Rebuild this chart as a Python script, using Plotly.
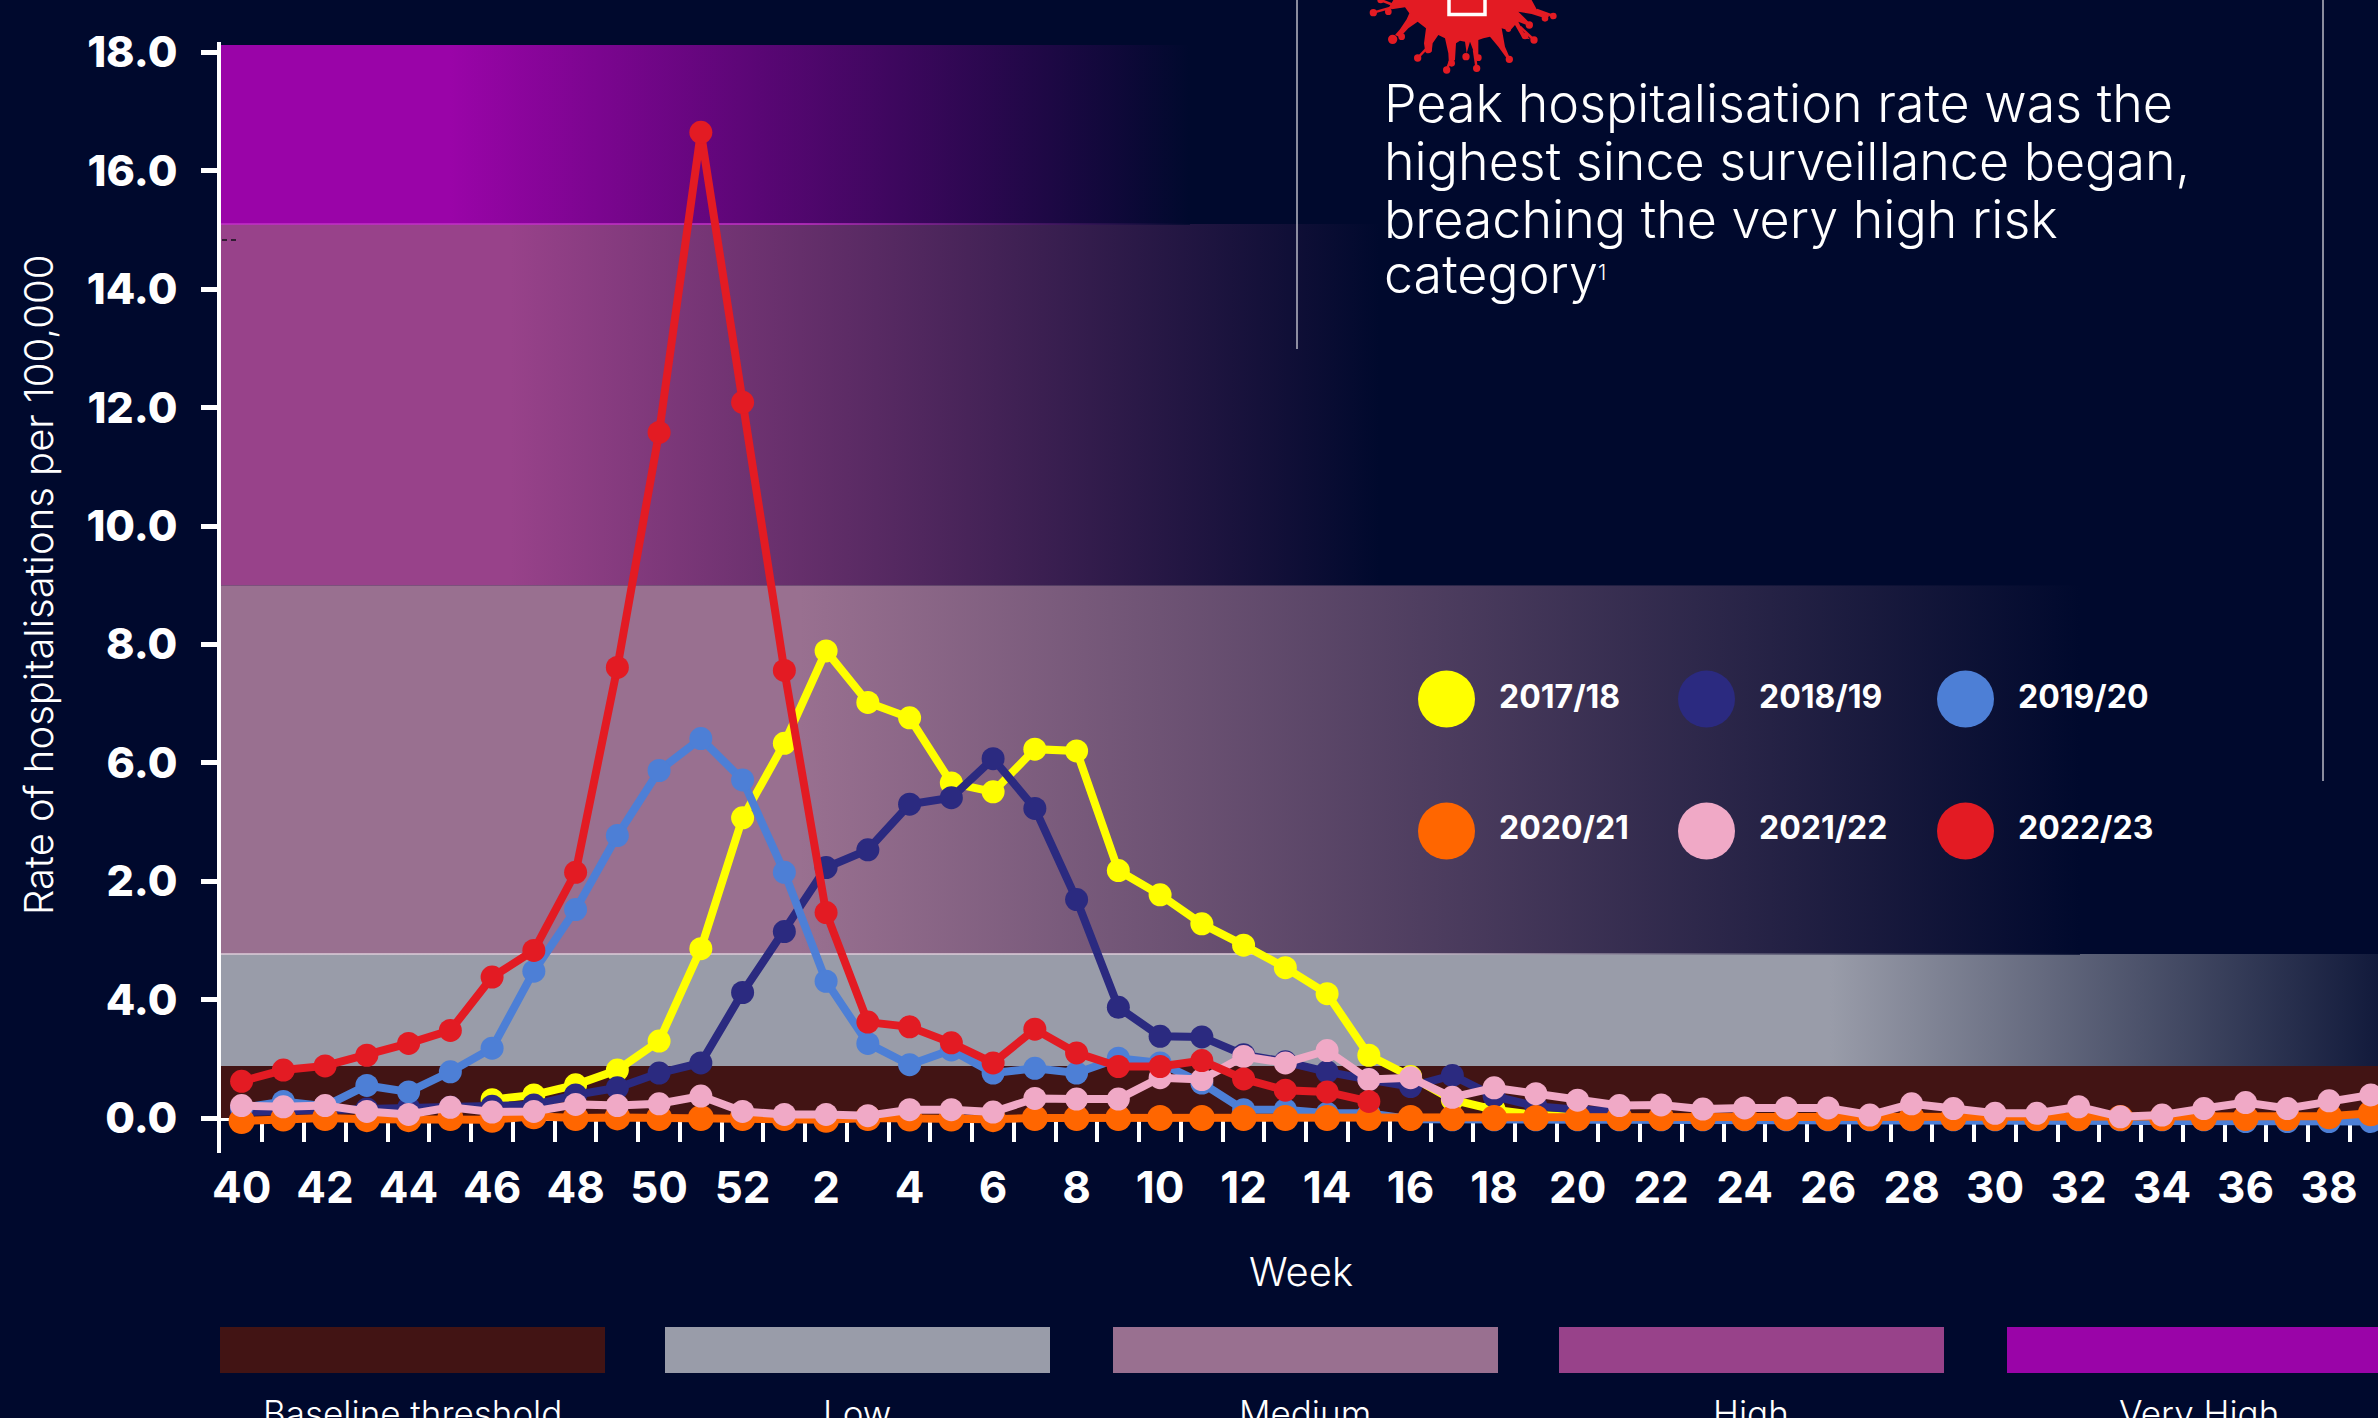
import plotly.graph_objects as go

# Surveillance weeks, October to September
weeks = list(range(40, 53)) + list(range(1, 40))

season_names = ["2017/18", "2018/19", "2019/20", "2020/21", "2021/22", "2022/23"]
season_colors = ["#ffff00", "#2b2a80", "#4d7fd6", "#ff6600", "#f0a9c6", "#e31b23"]
season_marker_sizes = [23, 23, 23, 26, 23, 23]
season_first_week = [46, 40, 40, 40, 40, 40]

rates_2017_18 = [0.31, 0.39, 0.56, 0.81, 1.30, 2.86, 5.07, 6.33, 7.89, 7.02, 6.76, 5.66, 5.51, 6.23, 6.20,
                 4.18, 3.77, 3.28, 2.92, 2.54, 2.10, 1.06, 0.70, 0.31, 0.14, 0.05, 0.03]
rates_2018_19 = [0.10, 0.12, 0.12, 0.15, 0.17, 0.18, 0.20, 0.22, 0.39, 0.51, 0.76, 0.93, 2.12, 3.15, 4.23, 4.53,
                 5.30, 5.41, 6.07, 5.23, 3.69, 1.87, 1.38, 1.37, 1.07, 0.95, 0.78, 0.65, 0.53, 0.72, 0.37, 0.20,
                 0.14, 0.12]
rates_2019_20 = [0.17, 0.28, 0.20, 0.55, 0.44, 0.78, 1.18, 2.48, 3.52, 4.77, 5.87, 6.41, 5.71, 4.15, 2.31, 1.26,
                 0.90, 1.15, 0.76, 0.84, 0.76, 1.01, 0.93, 0.59, 0.14, 0.14, 0.08, 0.08, -0.02, -0.03, -0.03, -0.03,
                 -0.03, -0.03, -0.03, -0.03, -0.03, -0.03, -0.03, -0.03, -0.03, -0.03, -0.03, -0.03, -0.03, -0.03,
                 -0.03, -0.03, -0.06, -0.06, -0.06, -0.06]
rates_2020_21 = [-0.05, -0.01, 0.00, -0.02, -0.02, 0.00, -0.03, 0.03, 0.00, 0.01, 0.00, 0.00, 0.00, 0.00, -0.03,
                 0.00, -0.01, -0.01, -0.02, 0.00, 0.00, 0.00, 0.00, 0.00, 0.00, 0.00, 0.00, 0.00, 0.00, 0.00, 0.00,
                 0.00, 0.00, 0.00, 0.00, 0.00, 0.00, 0.00, 0.00, 0.00, 0.00, 0.00, 0.00, 0.00, 0.00, 0.00, 0.00,
                 0.00, 0.00, 0.00, 0.03, 0.08]
rates_2021_22 = [0.21, 0.19, 0.21, 0.11, 0.06, 0.18, 0.10, 0.11, 0.23, 0.21, 0.24, 0.37, 0.11, 0.06, 0.06, 0.04,
                 0.14, 0.14, 0.10, 0.33, 0.32, 0.32, 0.68, 0.65, 1.04, 0.93, 1.14, 0.65, 0.68, 0.35, 0.51, 0.41,
                 0.30, 0.21, 0.22, 0.15, 0.17, 0.17, 0.17, 0.05, 0.24, 0.16, 0.08, 0.08, 0.19, 0.02, 0.05, 0.16,
                 0.26, 0.16, 0.29, 0.39]
rates_2022_23 = [0.62, 0.81, 0.88, 1.06, 1.26, 1.48, 2.38, 2.83, 4.15, 7.61, 11.58, 16.65, 12.09, 7.56, 3.47, 1.62,
                 1.54, 1.27, 0.93, 1.50, 1.10, 0.87, 0.87, 0.97, 0.66, 0.47, 0.44, 0.28]
season_rates = [rates_2017_18, rates_2018_19, rates_2019_20, rates_2020_21, rates_2021_22, rates_2022_23]

# Risk categories: lower bound, upper bound, key colour
category_names = ["Baseline threshold", "Low", "Medium", "High", "Very High"]
category_lower = [0.0, 0.88, 2.77, 9.0, 15.1]
category_upper = [0.88, 2.77, 9.0, 15.1, 18.125]
category_colors = ["#421414", "#999ca9", "#997090", "#98428a", "#9a04a8"]

y_tick_values = [0, 2, 4, 6, 8, 10, 12, 14, 16, 18]
y_tick_labels = ["0.0", "4.0", "2.0", "6.0", "8.0", "10.0", "12.0", "14.0", "16.0", "18.0"]

note_lines = ["Peak hospitalisation rate was the", "highest since surveillance began,",
              "breaching the very high risk", "category<span style='font-size:30px'><sup>1</sup></span>"]

BG = "#00092d"
W, H = 2378, 1418
ML, MT = 220, 45
PLOT_BOTTOM = 1153
ZERO_ROW = 1118
PER_UNIT = 59.2
MB = H - PLOT_BOTTOM
PW, PH = W - ML, PLOT_BOTTOM - MT
STEP = 41.75
FIRST = 241.6


def pxx(p):
    return (p - ML) / PW


def pxy(p):
    return (PLOT_BOTTOM - p) / PH


def to_week(p):
    return (p - FIRST) / STEP


fig = go.Figure()

# Category bands fading into the background from left to right
fade = [(None, None), (1830, 2450), (800, 2080), (510, 1380), (450, 1190)]
for i, name in enumerate(category_names):
    x0, x1 = to_week(221), to_week(W + 5)
    lo, hi = category_lower[i], category_upper[i]
    kw = dict(fillcolor=category_colors[i])
    if fade[i][0] is not None:
        a, b = to_week(fade[i][0]), to_week(fade[i][1])
        kw = dict(fillgradient=dict(type="horizontal", start=a, stop=b,
                                    colorscale=[[0, category_colors[i]], [1, BG]]))
    fig.add_trace(go.Scatter(x=[x0, x1, x1, x0, x0], y=[lo, lo, hi, hi, lo], mode="lines", fill="toself",
                             line=dict(width=0), showlegend=False, name=name, hoverinfo="skip", **kw))

# Pale edges on top of the low and high bands
for level, tone, end in [(2.77, "#dccbd8", 2080), (15.1, "#c22fc8", 1190)]:
    x0, x1 = to_week(221), to_week(end)
    fig.add_trace(go.Scatter(x=[x0, x1, x1, x0, x0], y=[level - 0.012, level - 0.012, level + 0.012, level + 0.012, level - 0.012],
                             mode="lines", fill="toself", line=dict(width=0), showlegend=False, hoverinfo="skip",
                             fillgradient=dict(type="horizontal", start=x0, stop=x1,
                                               colorscale=[[0, tone], [0.6, tone], [1, BG]])))

# One line per season
for name, color, msize, start, rates in zip(season_names, season_colors, season_marker_sizes, season_first_week, season_rates):
    k = weeks.index(start)
    fig.add_trace(go.Scatter(x=list(range(k, k + len(rates))), y=rates, mode="lines+markers", name=name,
                             line=dict(color=color, width=8), marker=dict(color=color, size=msize),
                             showlegend=False))

shapes = [
    # Extended vertical axis
    dict(type="line", xref="paper", yref="paper", x0=pxx(219), x1=pxx(219), y0=pxy(1153), y1=pxy(42),
         line=dict(color="white", width=4), layer="below"),
    # Column rules
    dict(type="line", xref="paper", yref="paper", x0=pxx(1297), x1=pxx(1297), y0=pxy(349), y1=pxy(-2),
         line=dict(color="#b9b9c4", width=1.5), layer="above"),
    dict(type="line", xref="paper", yref="paper", x0=pxx(2323), x1=pxx(2323), y0=pxy(781), y1=pxy(-2),
         line=dict(color="#b9b9c4", width=1.5), layer="above"),
    # Short dashed stub near the high band
    dict(type="line", xref="paper", yref="paper", x0=pxx(222), x1=pxx(240), y0=pxy(240), y1=pxy(240),
         line=dict(color="#101018", width=1.5, dash="5px,4px"), layer="above"),
]

# Category key
key_left = [220, 665, 1113, 1559, 2007]
for left, tone in zip(key_left, category_colors):
    shapes.append(dict(type="rect", xref="paper", yref="paper", x0=pxx(left), x1=pxx(left + 385),
                       y0=pxy(1373), y1=pxy(1327), fillcolor=tone, line=dict(width=0), layer="above"))

# Season key
legend_x = [1446.5, 1706.5, 1965.5]
legend_y = [699, 831]
legend_text_y = [697, 827.5]
R = 28.5
for i, tone in enumerate(season_colors):
    cx, cy = legend_x[i % 3], legend_y[i // 3]
    shapes.append(dict(type="circle", xref="paper", yref="paper", x0=pxx(cx - R), x1=pxx(cx + R),
                       y0=pxy(cy + R), y1=pxy(cy - R), fillcolor=tone, line=dict(width=0), layer="above"))

# Virus emblem cropped at the top edge
OX, OY, S = 1350, 0, 1 / 3
VIRUS = "#e31b23"
outline = [(130, -40), (130, 0), (118, 20), (125, 28), (165, 22), (178, 40), (170, 58), (150, 88), (135, 105), (150, 112),
           (175, 85), (203, 65), (228, 85), (222, 130), (225, 150), (245, 155), (248, 130), (265, 105), (285, 115),
           (295, 160), (297, 195), (315, 180), (318, 130), (330, 122), (345, 125), (350, 160), (360, 125), (375, 165),
           (385, 180), (385, 120), (400, 115), (420, 110), (445, 140), (470, 175), (480, 175), (465, 140), (455, 85),
           (480, 92), (495, 75), (515, 110), (525, 115), (540, 118), (520, 95), (505, 65), (530, 75), (535, 65),
           (505, 35), (545, 42), (585, 55), (600, 48), (560, 28), (545, 0), (530, -40)]
path = "M " + " L ".join(f"{pxx(OX + a * S):.6f},{pxy(OY + b * S):.6f}" for a, b in outline) + " Z"
shapes.append(dict(type="path", xref="paper", yref="paper", path=path, fillcolor=VIRUS, line=dict(width=0), layer="above"))
arms = [((70, 38), (125, 22)), ((92, 0), (130, 15)), ((203, 174), (235, 140)), ((290, 210), (305, 170)),
        ((380, 205), (372, 150)), ((610, 48), (560, 30)), ((552, 120), (510, 80)), ((538, 75), (510, 50))]
for (ax, ay), (bx, by) in arms:
    shapes.append(dict(type="line", xref="paper", yref="paper", x0=pxx(OX + ax * S), x1=pxx(OX + bx * S),
                       y0=pxy(OY + ay * S), y1=pxy(OY + by * S), line=dict(color=VIRUS, width=2.5), layer="above"))
droplets = [(128, 118, 14), (155, 110, 10), (70, 38, 11), (92, 0, 10), (203, 174, 11), (235, 150, 10), (290, 210, 11),
            (305, 190, 10), (348, 170, 11), (380, 205, 11), (385, 173, 10), (478, 178, 11), (475, 88, 8), (525, 108, 10),
            (552, 120, 11), (538, 75, 11), (585, 55, 10), (610, 48, 10), (115, 35, 10)]
for a, b, r in droplets:
    shapes.append(dict(type="circle", xref="paper", yref="paper", x0=pxx(OX + (a - r) * S), x1=pxx(OX + (a + r) * S),
                       y0=pxy(OY + (b + r) * S), y1=pxy(OY + (b - r) * S), fillcolor=VIRUS, line=dict(width=0), layer="above"))
shapes.append(dict(type="rect", xref="paper", yref="paper", x0=pxx(1449), x1=pxx(1485), y0=pxy(14.5), y1=pxy(-10),
                   fillcolor="rgba(0,0,0,0)", line=dict(color="white", width=3.5), layer="above"))

FONT = "Inter"
annotations = []


def note(px, py, text, size, anchor="left", weight=400, angle=0, family=FONT):
    annotations.append(dict(xref="paper", yref="paper", x=pxx(px), y=pxy(py), text=text, showarrow=False,
                            xanchor=anchor, yanchor="middle", textangle=angle,
                            font=dict(family=family, size=size, color="white", weight=weight)))


note(38, 585, "Rate of hospitalisations per 100,000", 40, "center", 300, -90)
note(1301, 1271, "Week", 40, "center", 300)
for line, py in zip(note_lines, [104, 162, 219, 275]):
    note(1382, py, line, 52, "left", 300)
for i, name in enumerate(season_names):
    note(legend_x[i % 3] + 50, legend_text_y[i // 3], name, 32, "left", 700)
for name, left in zip(category_names, key_left):
    note(left + 192, 1413, name, 35, "center", 300)

fig.update_layout(
    width=W, height=H, margin=dict(l=ML, r=0, t=MT, b=MB, pad=0),
    paper_bgcolor=BG, plot_bgcolor=BG, showlegend=False,
    shapes=shapes, annotations=annotations,
    font=dict(family=FONT, color="white"),
    xaxis=dict(range=[to_week(ML), to_week(W)], showgrid=False, zeroline=False,
               anchor="free", position=(PLOT_BOTTOM - ZERO_ROW) / PH,
               showline=True, linecolor="white", linewidth=5, layer="below traces",
               tickmode="array", tickvals=list(range(0, len(weeks), 2)), ticktext=[str(w) for w in weeks[::2]],
               ticks="", ticklabelstandoff=29,
               tickfont=dict(family=FONT, size=44, color="white", weight=700),
               minor=dict(tickmode="array", tickvals=[k + 0.5 for k in range(len(weeks))], ticks="outside",
                          ticklen=21, tickwidth=4, tickcolor="white", showgrid=False)),
    yaxis=dict(range=[(ZERO_ROW - PLOT_BOTTOM) / PER_UNIT, (ZERO_ROW - MT) / PER_UNIT],
               showgrid=False, zeroline=False, showline=False,
               tickmode="array", tickvals=y_tick_values, ticktext=y_tick_labels,
               ticks="outside", ticklen=18, tickwidth=5, tickcolor="white", layer="below traces",
               ticklabelstandoff=15,
               tickfont=dict(family=FONT, size=43, color="white", weight=800)),
)

fig.write_html("out.html")
